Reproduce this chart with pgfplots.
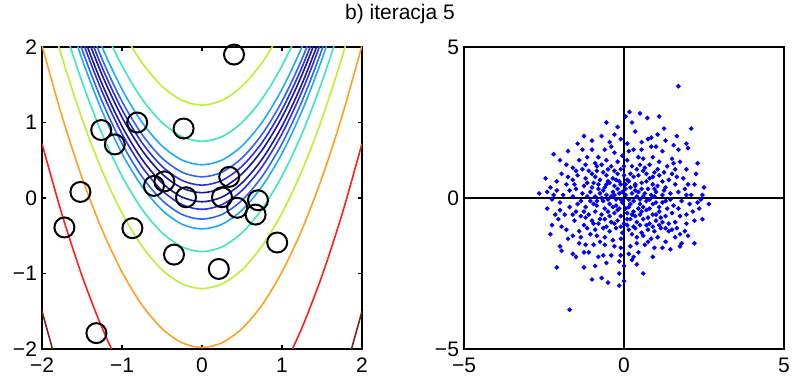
\documentclass[border=0pt]{standalone}
\usepackage{fontspec}
\setmainfont{Liberation Sans}
\usepackage{pgfplots}
\pgfplotsset{compat=1.18}
\usepackage{pgfplotstable}

\definecolor{cnavy}{RGB}{25,25,150}
\definecolor{cblue}{RGB}{45,45,235}
\definecolor{cblue2}{RGB}{45,100,255}
\definecolor{clb}{RGB}{30,170,250}
\definecolor{ccg}{RGB}{60,230,190}
\definecolor{cyg}{RGB}{190,240,50}
\definecolor{cor}{RGB}{255,160,30}
\definecolor{cred}{RGB}{255,30,30}
\definecolor{cdr}{RGB}{130,30,30}

% contour lines: columns a..o are the levels (valley y = x^2 + c)
\pgfplotstableread{
x a b c d e f g h i j k l m n o
-2 5.23 4.75 4.44 4.28 4.17 4.07 3.95 3.85 3.72 3.59 3.29 2.8 2.02 0.72 -1.5
-1.75 4.2925 3.8125 3.5025 3.3425 3.2325 3.1325 3.0125 2.9125 2.7825 2.6525 2.3525 1.8625 1.0825 -0.2175 -2.4375
-1.5 3.48 3.0 2.69 2.53 2.42 2.32 2.2 2.1 1.97 1.84 1.54 1.05 0.27 -1.03 -3.25
-1.25 2.7925 2.3125 2.0025 1.8425 1.7325 1.6325 1.5125 1.4125 1.2825 1.1525 0.8525 0.3625 -0.4175 -1.7175 -3.9375
-1 2.23 1.75 1.44 1.28 1.17 1.07 0.95 0.85 0.72 0.59 0.29 -0.2 -0.98 -2.28 -4.5
-0.75 1.7925 1.3125 1.0025 0.8425 0.7325 0.6325 0.5125 0.4125 0.2825 0.1525 -0.1475 -0.6375 -1.4175 -2.7175 -4.9375
-0.5 1.48 1.0 0.69 0.53 0.42 0.32 0.2 0.1 -0.03 -0.16 -0.46 -0.95 -1.73 -3.03 -5.25
-0.25 1.2925 0.8125 0.5025 0.3425 0.2325 0.1325 0.0125 -0.0875 -0.2175 -0.3475 -0.6475 -1.1375 -1.9175 -3.2175 -5.4375
0 1.23 0.75 0.44 0.28 0.17 0.07 -0.05 -0.15 -0.28 -0.41 -0.71 -1.2 -1.98 -3.28 -5.5
0.25 1.2925 0.8125 0.5025 0.3425 0.2325 0.1325 0.0125 -0.0875 -0.2175 -0.3475 -0.6475 -1.1375 -1.9175 -3.2175 -5.4375
0.5 1.48 1.0 0.69 0.53 0.42 0.32 0.2 0.1 -0.03 -0.16 -0.46 -0.95 -1.73 -3.03 -5.25
0.75 1.7925 1.3125 1.0025 0.8425 0.7325 0.6325 0.5125 0.4125 0.2825 0.1525 -0.1475 -0.6375 -1.4175 -2.7175 -4.9375
1 2.23 1.75 1.44 1.28 1.17 1.07 0.95 0.85 0.72 0.59 0.29 -0.2 -0.98 -2.28 -4.5
1.25 2.7925 2.3125 2.0025 1.8425 1.7325 1.6325 1.5125 1.4125 1.2825 1.1525 0.8525 0.3625 -0.4175 -1.7175 -3.9375
1.5 3.48 3.0 2.69 2.53 2.42 2.32 2.2 2.1 1.97 1.84 1.54 1.05 0.27 -1.03 -3.25
1.75 4.2925 3.8125 3.5025 3.3425 3.2325 3.1325 3.0125 2.9125 2.7825 2.6525 2.3525 1.8625 1.0825 -0.2175 -2.4375
2 5.23 4.75 4.44 4.28 4.17 4.07 3.95 3.85 3.72 3.59 3.29 2.8 2.02 0.72 -1.5
}\contours

% population (circles) in the left panel
\pgfplotstableread{
x y
0.40 1.90
-1.26 0.90
-0.81 1.00
-0.23 0.92
-1.09 0.71
-1.52 0.08
-0.60 0.16
-0.47 0.22
0.34 0.28
-0.20 0.01
0.25 0.01
0.70 -0.03
0.44 -0.13
0.67 -0.22
-1.72 -0.39
-0.87 -0.40
0.94 -0.59
-0.35 -0.75
0.21 -0.94
-1.32 -1.79
}\circles

% sampled points in the right panel
\pgfplotstableread{
x y
1.70 3.70
0.17 2.85
0.50 2.80
0.05 2.70
0.73 2.65
1.10 2.70
-0.55 2.50
0.25 2.50
1.25 2.30
2.10 2.30
-0.30 2.10
-0.10 1.95
0.10 1.80
-0.45 1.85
-0.40 1.70
-1.00 1.90
-1.45 1.80
-1.00 1.60
-1.30 1.60
-1.75 1.55
-2.20 1.45
0.55 1.85
0.75 1.95
0.85 2.00
0.85 1.70
1.00 1.70
1.55 1.75
1.65 2.05
1.95 1.80
2.00 1.65
1.70 1.60
2.30 1.15
-0.60 1.60
-0.30 1.50
0.15 1.55
0.10 1.25
0.45 1.35
0.60 1.30
0.90 1.35
1.50 1.30
1.55 1.15
-2.00 1.25
-1.80 1.10
-1.60 1.00
-1.50 0.90
-1.20 1.10
-0.90 1.15
-0.85 1.05
-0.70 1.10
-0.50 0.95
-1.30 0.95
-1.10 0.90
-1.45 0.75
-2.45 0.65
-1.75 0.70
-1.20 0.65
-1.00 0.80
-0.90 0.70
-0.75 0.60
-0.55 0.75
-0.30 0.90
-0.20 0.80
-0.10 0.95
0.00 0.75
0.20 0.80
0.30 0.70
0.45 0.75
0.60 0.90
0.65 1.00
0.70 0.80
0.80 0.65
0.95 0.85
1.10 0.75
1.20 0.55
1.25 0.85
1.50 0.80
1.60 0.95
1.85 0.65
2.20 0.45
2.50 0.35
1.30 0.35
1.05 0.40
0.90 0.45
0.75 0.30
0.55 0.50
0.35 0.45
0.20 0.35
0.05 0.30
-0.10 0.45
-0.30 0.40
-0.45 0.50
-0.60 0.35
-0.80 0.45
-1.00 0.35
-1.25 0.40
-1.50 0.30
-1.80 0.45
-2.10 0.25
-2.40 0.20
-2.65 0.15
-2.20 0.10
-1.90 0.10
-1.60 0.05
-1.30 0.15
-1.05 0.20
-0.90 0.05
-0.75 0.15
-0.55 0.10
-0.35 0.20
-0.15 0.15
0.05 0.10
0.25 0.15
0.45 0.20
0.65 0.15
0.85 0.10
1.00 0.20
1.20 0.10
1.45 0.15
1.70 0.20
1.90 0.30
2.10 0.10
2.45 0.10
2.65 -0.20
2.30 -0.15
2.05 -0.20
1.80 -0.10
1.55 -0.25
1.30 -0.10
1.10 -0.30
0.90 -0.20
0.70 -0.10
0.50 -0.20
0.30 -0.10
0.15 -0.30
-0.05 -0.15
-0.25 -0.05
-0.45 -0.20
-0.65 -0.10
-0.85 -0.25
-1.05 -0.10
-1.20 -0.30
-1.45 -0.20
-1.70 -0.30
-2.00 -0.15
-2.40 -0.35
-2.25 -0.05
-2.00 -0.40
-1.50 -0.45
-1.10 -0.55
-0.90 -0.45
-0.70 -0.55
-0.50 -0.45
-0.30 -0.50
-0.10 -0.60
0.10 -0.50
0.30 -0.45
0.50 -0.55
0.70 -0.40
0.90 -0.55
1.10 -0.45
1.30 -0.60
1.50 -0.50
1.75 -0.60
1.95 -0.55
2.45 -0.70
2.20 -0.75
1.60 -0.80
1.40 -0.85
1.20 -0.80
1.00 -0.75
0.80 -0.85
0.60 -0.70
0.40 -0.80
0.20 -0.70
0.00 -0.85
-0.20 -0.75
-0.40 -0.80
-0.60 -0.70
-0.80 -0.85
-1.00 -0.75
-1.25 -0.90
-1.55 -0.75
-2.05 -0.70
-1.80 -1.05
-1.40 -1.10
-1.15 -1.00
-0.90 -1.05
-0.65 -1.00
-0.45 -1.10
-0.25 -1.00
-0.05 -1.15
0.15 -1.05
0.35 -1.00
0.55 -1.15
0.75 -1.05
0.95 -1.10
1.15 -1.00
1.40 -1.10
1.65 -1.00
1.90 -1.10
2.00 -1.25
1.60 -1.30
2.20 -1.50
1.80 -1.50
1.30 -1.45
1.05 -1.30
0.85 -1.35
0.60 -1.25
0.40 -1.30
0.25 -1.20
-0.10 -1.35
-0.35 -1.40
-0.60 -1.30
-0.85 -1.25
-1.05 -1.20
-1.35 -1.30
-1.60 -1.25
-2.30 -1.20
-1.40 -1.50
-0.95 -1.55
-0.60 -1.55
-0.10 -1.65
0.40 -1.50
0.75 -1.45
0.95 -1.65
1.20 -1.65
1.45 -1.70
1.75 -1.60
-2.00 -1.60
-1.95 -1.75
-1.60 -1.85
-1.25 -1.80
-1.10 -1.80
-0.80 -1.95
-0.65 -1.90
-0.40 -1.90
-0.10 -1.90
0.15 -1.85
0.30 -1.95
0.45 -1.80
0.90 -1.95
-1.50 -1.95
-0.15 -2.10
0.25 -2.05
-2.10 -2.30
-1.25 -2.30
0.60 -2.50
-1.00 -2.70
-0.70 -2.65
-0.50 -2.80
-0.15 -2.90
0.00 -2.75
-0.15 -2.50
-1.70 -3.70
-0.20 0.30
-0.40 0.05
-0.65 0.25
0.15 0.55
0.40 0.05
0.60 -0.30
0.80 -0.05
1.00 -0.15
0.20 -0.20
-0.15 -0.35
-0.35 -0.30
-0.60 -0.35
-0.80 0.30
-1.15 0.50
0.35 -0.60
0.55 -0.45
0.75 -0.65
-0.25 0.60
-0.50 0.55
0.10 0.60
0.40 0.95
0.25 1.05
-0.65 0.85
-0.95 0.50
1.15 -0.65
0.95 0.05
1.35 -0.35
-1.35 -0.60
-1.70 0.25
1.60 0.45
-0.15 0.55
0.05 0.45
-0.35 0.65
0.35 0.25
0.55 0.30
0.70 0.55
0.90 0.70
1.05 0.95
1.35 1.05
1.75 1.20
1.95 0.95
2.25 0.80
2.35 -0.35
2.15 -0.45
1.95 -0.85
1.70 -0.35
1.45 -0.05
1.25 0.25
0.95 0.30
0.60 0.05
0.45 -0.35
0.25 -0.55
0.05 -0.35
-0.10 -0.05
-0.30 0.10
-0.50 -0.05
-0.70 0.00
-0.95 -0.20
-1.15 0.05
-1.35 -0.10
-1.60 -0.55
-1.85 -0.55
-2.15 -0.55
-2.25 -0.90
-1.95 -0.95
-1.20 -0.65
-0.95 -0.85
-0.75 -0.70
-0.55 -0.95
-0.30 -0.85
-0.10 -0.95
0.10 -0.90
0.30 -0.95
0.50 -0.90
0.70 -0.90
0.90 -0.95
1.10 -0.90
1.30 -1.00
1.50 -1.05
1.75 -1.20
0.65 -1.55
0.20 -1.60
-0.30 -1.60
-0.75 -1.45
-1.20 -1.55
-1.75 -1.35
-0.55 -2.15
0.00 -2.25
0.40 -2.20
-0.90 -2.25
-1.60 0.60
-1.95 0.80
-2.10 0.55
-1.40 1.25
-1.15 1.35
-0.80 1.35
-0.55 1.25
-0.20 1.20
-0.05 1.40
0.30 1.60
0.55 1.60
1.20 1.55
1.30 1.90
1.05 2.10
0.35 2.20
-0.20 2.35
-0.70 2.05
-1.25 2.05
-0.85 0.90
-0.40 1.05
0.00 1.05
0.50 1.10
0.80 1.10
1.10 1.20
1.40 0.60
1.65 0.70
2.00 0.45
2.40 -0.05
1.95 0.10
-0.85 -0.10
-1.25 -0.45
-1.55 0.45
-2.30 0.35
0.15 -0.05
0.35 0.40
-0.55 0.45
-0.05 0.20
0.50 -0.05
1.20 -0.15
1.00 -0.55
0.80 -0.35
-0.25 -0.25
-0.45 -0.60
-0.20 -0.40
0.10 -0.70
}\pts

\pgfplotsset{panel/.style={
  scale only axis, width=160pt, height=151pt,
  axis line style={line width=0.9pt},
  tick align=inside, major tick length=2pt,
  tick style={black, line width=0.6pt},
  ticklabel style={font=\fontsize{10.5}{12}\selectfont},
  xticklabel style={yshift=-1pt},
  yticklabel style={xshift=1pt},
}}

\begin{document}
\begin{tikzpicture}
\path[use as bounding box] (0,0) rectangle (397pt,189pt);
\node[font=\fontsize{10.5}{12}\selectfont] at (200pt,182pt) {b) iteracja 5};

\begin{axis}[panel, at={(21pt,14.5pt)}, anchor=south west,
  xmin=-2, xmax=2, ymin=-2, ymax=2,
  xtick={-2,-1,0,1,2}, ytick={-2,-1,0,1,2},
  xticklabels={−2,−1,0,1,2}, yticklabels={−2,−1,0,1,2}]
\addplot[cdr, line width=0.8pt, smooth] table[x=x,y=o]{\contours};
\addplot[cred, line width=0.8pt, smooth] table[x=x,y=n]{\contours};
\addplot[cor, line width=0.8pt, smooth] table[x=x,y=m]{\contours};
\addplot[cyg, line width=0.8pt, smooth] table[x=x,y=l]{\contours};
\addplot[ccg, line width=0.8pt, smooth] table[x=x,y=k]{\contours};
\addplot[clb, line width=0.8pt, smooth] table[x=x,y=j]{\contours};
\addplot[cblue2, line width=0.8pt, smooth] table[x=x,y=i]{\contours};
\addplot[cblue, line width=0.8pt, smooth] table[x=x,y=h]{\contours};
\addplot[cnavy, line width=0.8pt, smooth] table[x=x,y=g]{\contours};
\addplot[cnavy, line width=0.8pt, smooth] table[x=x,y=f]{\contours};
\addplot[cblue, line width=0.8pt, smooth] table[x=x,y=e]{\contours};
\addplot[cblue2, line width=0.8pt, smooth] table[x=x,y=d]{\contours};
\addplot[clb, line width=0.8pt, smooth] table[x=x,y=c]{\contours};
\addplot[ccg, line width=0.8pt, smooth] table[x=x,y=b]{\contours};
\addplot[cyg, line width=0.8pt, smooth] table[x=x,y=a]{\contours};
\addplot[only marks, mark=o, mark size=5pt, black, mark options={line width=1pt}] table{\circles};
\end{axis}

\begin{axis}[panel, at={(232pt,14.5pt)}, anchor=south west,
  xmin=-5, xmax=5, ymin=-5, ymax=5,
  xtick={-5,0,5}, ytick={-5,0,5},
  xticklabels={−5,0,5}, yticklabels={−5,0,5}]
\addplot[black, line width=0.8pt] coordinates {(-5,0) (5,0)};
\addplot[black, line width=0.8pt] coordinates {(0,-5) (0,5)};
\addplot[only marks, mark=*, mark size=0.95pt, blue, mark options={draw=blue, fill=blue}] table{\pts};
\end{axis}
\end{tikzpicture}
\end{document}
